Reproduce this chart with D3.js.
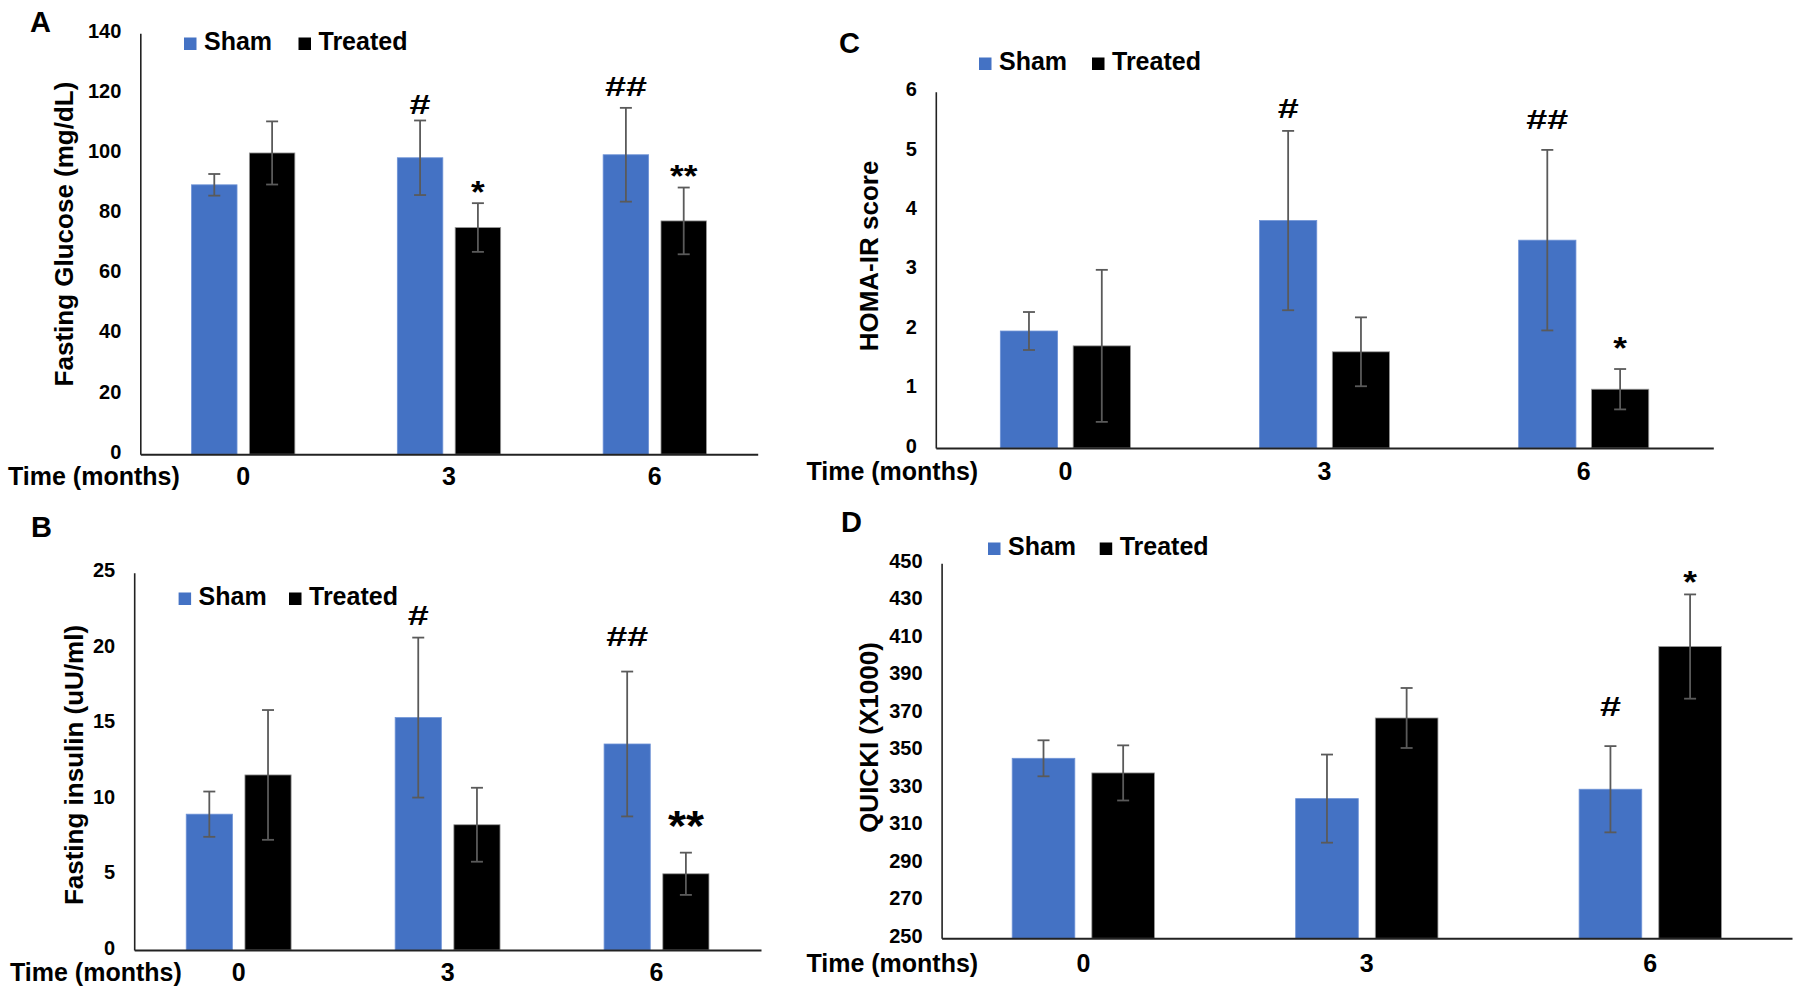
<!DOCTYPE html>
<html>
<head>
<meta charset="utf-8">
<script src="https://cdn.jsdelivr.net/npm/d3@7"></script>
<style>
  html, body { margin: 0; padding: 0; background: #fff; }
  svg { display: block; }
  text { font-family: "Liberation Sans", Arial, sans-serif; font-weight: bold; fill: #000; }
</style>
</head>
<body>
<svg id="chart" width="1800" height="992"></svg>
<script>
// ---------- DATA ----------
const timepoints = ["0", "3", "6"];
const seriesNames = ["Sham", "Treated"];
const xAxisLabel = "Time (months)";

// Panel A: Fasting glucose
const glucoseSham = [89.6, 98.6, 99.6];
const glucoseShamErr = [3.6, 12.4, 15.6];
const glucoseTreated = [100.2, 75.4, 77.6];
const glucoseTreatedErr = [10.5, 8.1, 11.1];
const glucoseTicks = [0, 20, 40, 60, 80, 100, 120, 140];
const glucoseNotes = [
  { time: "3", series: "Sham", label: "#", value: 116.5 },
  { time: "3", series: "Treated", label: "*", value: 90.2 },
  { time: "6", series: "Sham", label: "##", value: 122.5 },
  { time: "6", series: "Treated", label: "**", value: 95.6 }
];

// Panel B: Fasting insulin
const insulinSham = [9.0, 15.4, 13.65];
const insulinShamErr = [1.5, 5.3, 4.8];
const insulinTreated = [11.6, 8.3, 5.05];
const insulinTreatedErr = [4.3, 2.45, 1.4];
const insulinTicks = [0, 5, 10, 15, 20, 25];
const insulinNotes = [
  { time: "3", series: "Sham", label: "#", value: 22.2 },
  { time: "6", series: "Sham", label: "##", value: 20.8 },
  { time: "6", series: "Treated", label: "**", value: 9.0 }
];

// Panel C: HOMA-IR
const homaSham = [1.97, 3.83, 3.5];
const homaShamErr = [0.32, 1.51, 1.52];
const homaTreated = [1.72, 1.62, 0.99];
const homaTreatedErr = [1.28, 0.58, 0.34];
const homaTicks = [0, 1, 2, 3, 4, 5, 6];
const homaNotes = [
  { time: "3", series: "Sham", label: "#", value: 5.72 },
  { time: "6", series: "Sham", label: "##", value: 5.54 },
  { time: "6", series: "Treated", label: "*", value: 1.84 }
];

// Panel D: QUICKI
const quickiSham = [346.0, 324.5, 329.5];
const quickiShamErr = [9.6, 23.5, 23.0];
const quickiTreated = [338.2, 367.5, 405.6];
const quickiTreatedErr = [14.7, 16.0, 27.8];
const quickiTicks = [250, 270, 290, 310, 330, 350, 370, 390, 410, 430, 450];
const quickiNotes = [
  { time: "6", series: "Sham", label: "#", value: 374 },
  { time: "6", series: "Treated", label: "*", value: 445 }
];

const seriesColors = ["#4472C4", "#000000"];

// ---------- LAYOUT ----------
const panels = [
  { letter: "A", title: "Fasting Glucose (mg/dL)", sham: glucoseSham, shamErr: glucoseShamErr,
    treated: glucoseTreated, treatedErr: glucoseTreatedErr, ticks: glucoseTicks, notes: glucoseNotes,
    g: { left: 140.3, right: 757.7, top: 33.3, bottom: 454.2, letterX: 30, letterY: 32,
         legX1: 184, legX2: 298.5, legY: 50, titleX: 66, titleY: 234, timeX: 8, catDy: 31, starSize: 32 } },
  { letter: "B", title: "Fasting insulin (uU/ml)", sham: insulinSham, shamErr: insulinShamErr,
    treated: insulinTreated, treatedErr: insulinTreatedErr, ticks: insulinTicks, notes: insulinNotes,
    g: { left: 134.2, right: 761, top: 572.7, bottom: 950, letterX: 31, letterY: 537,
         legX1: 178.6, legX2: 289, legY: 605, titleX: 76, titleY: 765, timeX: 10, catDy: 31, starSize: 42 } },
  { letter: "C", title: "HOMA-IR score", sham: homaSham, shamErr: homaShamErr,
    treated: homaTreated, treatedErr: homaTreatedErr, ticks: homaTicks, notes: homaNotes,
    g: { left: 935.8, right: 1713.3, top: 91.7, bottom: 448, letterX: 839, letterY: 53,
         legX1: 979, legX2: 1092, legY: 70, titleX: 871, titleY: 256, timeX: 806.4, catDy: 32, starSize: 32 } },
  { letter: "D", title: "QUICKI (X1000)", sham: quickiSham, shamErr: quickiShamErr,
    treated: quickiTreated, treatedErr: quickiTreatedErr, ticks: quickiTicks, notes: quickiNotes,
    g: { left: 941.6, right: 1792, top: 563.3, bottom: 938.3, letterX: 841, letterY: 532,
         legX1: 988, legX2: 1099.7, legY: 555, titleX: 871, titleY: 737.5, timeX: 806.4, catDy: 34, starSize: 32 } }
];

const svg = d3.select("#chart");

panels.forEach(p => {
  const g = p.g;
  const root = svg.append("g");

  const x = d3.scaleBand().domain(timepoints).range([g.left, g.right]).paddingInner(0).paddingOuter(0);
  const bw = x.bandwidth();
  const barW = bw * 0.221;
  const gapW = bw * 0.06;
  const offsets = { "Sham": -gapW / 2 - barW, "Treated": gapW / 2 };
  const y = d3.scaleLinear().domain([p.ticks[0], p.ticks[p.ticks.length - 1]]).range([g.bottom, g.top]);

  const rows = [];
  timepoints.forEach((t, i) => {
    rows.push({ time: t, series: "Sham", value: p.sham[i], err: p.shamErr[i], color: seriesColors[0] });
    rows.push({ time: t, series: "Treated", value: p.treated[i], err: p.treatedErr[i], color: seriesColors[1] });
  });
  const barX = d => x(d.time) + bw / 2 + offsets[d.series];

  // bars
  root.selectAll("rect.bar").data(rows).enter().append("rect")
    .attr("class", "bar")
    .attr("x", d => barX(d))
    .attr("width", barW)
    .attr("y", d => y(d.value))
    .attr("height", d => y(p.ticks[0]) - y(d.value))
    .attr("fill", d => d.color)
    .attr("stroke", d => d.series === "Treated" ? "#9a9a9a" : "#6f93d6")
    .attr("stroke-width", 0.8);

  // error bars
  const eb = root.selectAll("g.err").data(rows).enter().append("g").attr("class", "err")
    .attr("stroke", "#5a5a5a").attr("stroke-width", 1.8);
  eb.append("line")
    .attr("x1", d => barX(d) + barW / 2).attr("x2", d => barX(d) + barW / 2)
    .attr("y1", d => y(d.value + d.err)).attr("y2", d => y(d.value - d.err));
  [1, -1].forEach(sgn => {
    eb.append("line")
      .attr("x1", d => barX(d) + barW / 2 - 6).attr("x2", d => barX(d) + barW / 2 + 6)
      .attr("y1", d => y(d.value + sgn * d.err)).attr("y2", d => y(d.value + sgn * d.err));
  });

  // y axis
  const yAxis = d3.axisLeft(y).tickValues(p.ticks).tickSize(0).tickSizeOuter(0).tickPadding(19)
    .tickFormat(d3.format("d"));
  const ya = root.append("g").attr("transform", `translate(${g.left},0)`).call(yAxis);
  ya.select(".domain").attr("stroke", "#222").attr("stroke-width", 1.6);
  ya.selectAll("text").attr("font-size", 20).attr("font-weight", "bold")
    .attr("font-family", '"Liberation Sans", Arial, sans-serif').attr("fill", "#000")
    .attr("dy", "0.2em");

  // x axis
  const xAxis = d3.axisBottom(x).tickSize(0).tickSizeOuter(0).tickPadding(0);
  const xa = root.append("g").attr("transform", `translate(0,${g.bottom})`).call(xAxis);
  xa.select(".domain").attr("stroke", "#222").attr("stroke-width", 2);
  xa.selectAll("text").attr("font-size", 25).attr("font-weight", "bold")
    .attr("font-family", '"Liberation Sans", Arial, sans-serif').attr("fill", "#000")
    .attr("y", g.catDy).attr("dy", 0);

  // time label
  root.append("text").attr("x", g.timeX).attr("y", g.bottom + g.catDy)
    .attr("font-size", 25).text(xAxisLabel);

  // y title
  root.append("text")
    .attr("transform", `translate(${g.titleX + 6.6},${g.titleY}) rotate(-90)`)
    .attr("text-anchor", "middle").attr("font-size", 26).text(p.title);

  // panel letter
  root.append("text").attr("x", g.letterX).attr("y", g.letterY).attr("font-size", 29).text(p.letter);

  // legend
  const legX = [g.legX1, g.legX2];
  seriesNames.forEach((s, i) => {
    root.append("rect").attr("x", legX[i]).attr("y", g.legY - 12.5).attr("width", 12.5).attr("height", 12.5)
      .attr("fill", seriesColors[i]);
    root.append("text").attr("x", legX[i] + 20).attr("y", g.legY).attr("font-size", 25).text(s);
  });

  // significance marks
  root.selectAll("text.note").data(p.notes).enter().append("text")
    .attr("class", "note")
    .attr("transform", d => {
      const cx = x(d.time) + bw / 2 + offsets[d.series] + barW / 2;
      const isStar = d.label.indexOf("*") >= 0;
      return `translate(${cx},${y(d.value)}) scale(${isStar ? 1.1 : 1.35},1)`;
    })
    .attr("text-anchor", "middle")
    .attr("dy", d => d.label.indexOf("*") >= 0 ? "0.62em" : "0.36em")
    .attr("font-size", d => d.label.indexOf("*") >= 0 ? g.starSize : 28)
    .text(d => d.label);
});
</script>
</body>
</html>
